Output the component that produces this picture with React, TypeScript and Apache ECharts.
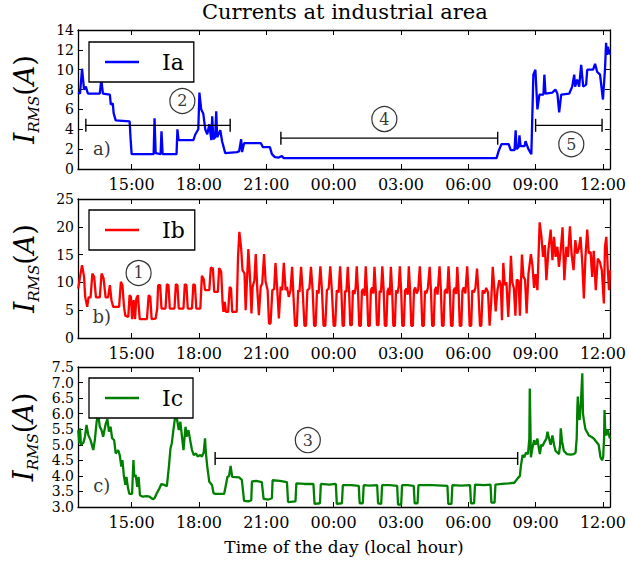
import React, { useEffect, useRef } from "react";
import * as echarts from "echarts";

const FONT = '"DejaVu Serif", serif';
const X_MIN = 12.61;
const X_MAX = 36.31;
const hourTicks = [15, 18, 21, 24, 27, 30, 33, 36];

// [hour of day (continuing past 24), current in A]
const iaData = [
  [12.61, 7.7], [12.7, 7.6], [12.79, 10.1], [12.88, 8.0], [12.96, 8.3], [13.05, 7.6], [13.58, 7.6], [13.65, 9.0],
  [13.72, 7.6], [14.03, 7.5], [14.07, 6.5], [14.16, 6.6], [14.2, 5.6], [14.29, 4.9], [14.91, 4.8], [14.96, 2.8],
  [15.0, 1.5], [15.98, 1.5], [16.02, 5.1], [16.07, 1.6], [16.29, 1.5], [16.33, 3.8], [16.38, 1.5], [17.0, 1.5],
  [17.04, 4.0], [17.09, 2.9], [17.75, 2.9], [17.84, 3.5], [17.97, 4.0], [18.02, 7.7], [18.1, 6.0], [18.19, 5.6],
  [18.28, 4.0], [18.37, 3.5], [18.46, 4.5], [18.55, 2.9], [18.59, 5.3], [18.64, 3.0], [18.72, 3.2], [18.77, 5.8],
  [18.81, 3.2], [18.95, 3.9], [19.03, 2.8], [19.17, 1.6], [19.7, 1.7], [19.79, 1.8], [19.88, 3.0], [19.92, 1.7],
  [20.01, 2.6], [20.76, 2.6], [20.85, 2.2], [21.16, 2.2], [21.25, 1.5], [21.38, 1.2], [21.56, 1.15], [21.69, 1.3],
  [21.78, 1.1], [31.26, 1.1], [31.35, 1.8], [31.48, 2.5], [31.8, 2.5], [31.89, 1.9], [32.06, 1.9], [32.11, 3.9],
  [32.15, 2.0], [32.24, 2.2], [32.28, 3.4], [32.33, 2.3], [32.51, 2.3], [32.55, 2.8], [32.68, 2.0], [32.81, 1.5],
  [32.9, 9.5], [32.99, 10.0], [33.08, 6.0], [33.17, 7.5], [33.35, 7.5], [33.39, 9.5], [33.44, 7.6], [33.75, 7.7],
  [33.88, 8.0], [33.97, 7.6], [34.05, 5.7], [34.14, 7.5], [34.5, 7.6], [34.63, 8.3], [34.72, 9.5], [34.76, 8.3],
  [34.85, 9.0], [34.94, 8.3], [35.03, 10.5], [35.12, 8.3], [35.25, 8.5], [35.3, 10.0], [35.56, 10.0], [35.65, 10.6],
  [35.74, 9.8], [35.87, 9.5], [36.0, 7.0], [36.09, 10.0], [36.14, 12.7], [36.18, 11.5], [36.22, 12.3], [36.31, 11.5],
];

const ibData = [
  [12.62, 8.9], [12.7, 11.0], [12.79, 13.1], [12.88, 11.0], [12.93, 7.4], [13.02, 5.6], [13.08, 7.3], [13.17, 7.3],
  [13.25, 11.6], [13.33, 11.0], [13.41, 7.3], [13.58, 7.3], [13.66, 11.6], [13.75, 10.7], [13.84, 7.3], [13.95, 7.3],
  [14.03, 9.5], [14.1, 6.8], [14.18, 5.6], [14.44, 5.6], [14.52, 10.1], [14.59, 9.5], [14.66, 5.6], [14.72, 4.0],
  [14.85, 3.8], [14.91, 7.7], [14.97, 7.4], [15.02, 3.4], [15.09, 6.8], [15.15, 3.4], [15.21, 7.1], [15.28, 7.7],
  [15.36, 3.4], [15.68, 3.4], [15.76, 7.7], [15.83, 7.4], [15.89, 3.4], [16.07, 3.5], [16.14, 5.3], [16.18, 9.5],
  [16.27, 9.5], [16.33, 5.3], [16.51, 5.3], [16.57, 9.7], [16.64, 9.5], [16.7, 5.3], [16.91, 5.3], [16.97, 9.7],
  [17.04, 9.5], [17.1, 5.3], [17.31, 5.3], [17.37, 9.7], [17.44, 9.5], [17.5, 5.3], [17.69, 5.3], [17.75, 9.7],
  [17.82, 9.5], [17.88, 5.3], [18.06, 5.3], [18.13, 11.2], [18.21, 10.6], [18.27, 8.6], [18.46, 8.6], [18.53, 12.7],
  [18.62, 12.5], [18.68, 8.3], [18.84, 8.3], [18.9, 12.6], [18.99, 11.9], [19.05, 6.5], [19.09, 4.7], [19.15, 6.5],
  [19.2, 4.7], [19.3, 4.7], [19.37, 9.2], [19.43, 8.9], [19.48, 4.7], [19.68, 4.7], [19.74, 14.6], [19.8, 19.1],
  [19.88, 16.1], [19.94, 12.2], [20.03, 11.6], [20.08, 5.0], [20.14, 10.4], [20.2, 16.0], [20.28, 10.4], [20.34, 4.4],
  [20.39, 9.2], [20.47, 10.4], [20.53, 15.1], [20.6, 8.6], [20.67, 4.1], [20.75, 9.2], [20.82, 9.8], [20.9, 15.1],
  [20.97, 10.1], [21.06, 8.6], [21.12, 2.6], [21.19, 2.6], [21.27, 8.6], [21.35, 8.8], [21.41, 13.5], [21.49, 8.6],
  [21.56, 3.5], [21.64, 9.2], [21.71, 8.6], [21.78, 13.5], [21.86, 8.6], [21.92, 9.2], [22.0, 7.4], [22.08, 8.6],
  [22.15, 12.8], [22.22, 6.8], [22.28, 2.2], [22.36, 2.2], [22.42, 8.6], [22.48, 8.3], [22.55, 12.8], [22.62, 8.6],
  [22.7, 2.2], [22.77, 2.2], [22.83, 8.6], [22.92, 8.9], [22.99, 12.8], [23.07, 8.3], [23.13, 2.2], [23.2, 2.2],
  [23.26, 8.6], [23.33, 8.0], [23.41, 12.9], [23.48, 8.6], [23.55, 2.2], [23.63, 2.2], [23.7, 8.6], [23.78, 8.9],
  [23.85, 12.9], [23.92, 8.6], [24.0, 2.2], [24.07, 2.2], [24.14, 8.6], [24.22, 8.2], [24.29, 12.9], [24.35, 8.0],
  [24.4, 2.2], [24.46, 2.2], [24.51, 8.5], [24.57, 8.3], [24.63, 12.8], [24.69, 8.4], [24.74, 2.3], [24.81, 2.3],
  [24.86, 8.6], [24.93, 7.9], [24.98, 9.0], [25.03, 12.9], [25.09, 8.2], [25.14, 2.2], [25.21, 2.2], [25.26, 8.5],
  [25.33, 8.8], [25.38, 7.6], [25.43, 12.9], [25.49, 8.3], [25.54, 2.2], [25.61, 2.2], [25.66, 8.6], [25.72, 9.1],
  [25.77, 8.0], [25.82, 12.8], [25.88, 8.4], [25.93, 2.3], [26.0, 2.3], [26.05, 8.5], [26.11, 8.2], [26.17, 12.9],
  [26.23, 8.6], [26.28, 2.2], [26.35, 2.2], [26.4, 8.4], [26.46, 9.0], [26.5, 7.7], [26.55, 12.8], [26.61, 8.3],
  [26.66, 2.2], [26.73, 2.2], [26.78, 8.6], [26.84, 8.0], [26.9, 9.2], [26.95, 12.9], [27.01, 8.4], [27.06, 2.2],
  [27.13, 2.2], [27.18, 8.5], [27.24, 8.9], [27.3, 7.8], [27.35, 12.9], [27.41, 8.2], [27.46, 2.2], [27.53, 2.2],
  [27.58, 8.6], [27.64, 9.1], [27.7, 8.0], [27.77, 8.7], [27.84, 12.9], [27.9, 8.4], [27.95, 2.2], [28.02, 2.2],
  [28.07, 8.5], [28.13, 8.0], [28.2, 9.0], [28.28, 12.8], [28.34, 8.3], [28.39, 2.2], [28.46, 2.2], [28.51, 8.6],
  [28.57, 9.2], [28.63, 7.8], [28.72, 12.9], [28.78, 8.5], [28.83, 2.2], [28.9, 2.2], [28.95, 8.4], [29.01, 8.8],
  [29.06, 8.0], [29.12, 12.9], [29.18, 8.2], [29.23, 2.2], [29.3, 2.2], [29.35, 8.6], [29.41, 9.0], [29.46, 7.9],
  [29.51, 12.8], [29.57, 8.4], [29.62, 2.2], [29.69, 2.2], [29.74, 8.5], [29.8, 9.1], [29.87, 8.0], [29.95, 12.9],
  [30.01, 8.3], [30.06, 2.2], [30.13, 2.2], [30.18, 8.6], [30.25, 8.2], [30.32, 9.0], [30.39, 12.5], [30.45, 8.5],
  [30.52, 2.2], [30.58, 2.2], [30.64, 8.6], [30.72, 8.0], [30.8, 9.0], [30.88, 8.2], [30.95, 2.2], [31.02, 6.5],
  [31.09, 12.8], [31.16, 8.8], [31.22, 4.8], [31.3, 8.6], [31.38, 10.4], [31.45, 9.5], [31.5, 3.2], [31.56, 13.5],
  [31.63, 9.5], [31.7, 10.0], [31.78, 3.8], [31.85, 9.5], [31.9, 14.8], [31.96, 10.0], [32.03, 9.0], [32.1, 4.0],
  [32.16, 10.5], [32.24, 10.3], [32.3, 4.0], [32.39, 15.0], [32.46, 11.0], [32.53, 10.5], [32.6, 4.4], [32.68, 11.5],
  [32.79, 15.1], [32.86, 13.0], [32.93, 9.0], [33.0, 11.5], [33.08, 8.6], [33.18, 20.8], [33.26, 18.2], [33.33, 14.6],
  [33.41, 16.7], [33.48, 10.4], [33.57, 15.8], [33.67, 19.5], [33.75, 14.0], [33.82, 18.2], [33.89, 14.6], [33.97, 16.4],
  [34.04, 12.8], [34.12, 15.8], [34.2, 19.9], [34.28, 10.4], [34.37, 16.4], [34.44, 14.6], [34.53, 20.1], [34.6, 15.2],
  [34.69, 12.2], [34.77, 17.6], [34.85, 15.2], [34.93, 16.1], [35.0, 18.2], [35.08, 13.4], [35.15, 7.1], [35.22, 14.6],
  [35.3, 19.5], [35.37, 15.2], [35.45, 15.5], [35.52, 11.0], [35.59, 15.7], [35.68, 8.6], [35.77, 14.3], [35.86, 13.7],
  [35.95, 12.2], [36.04, 6.2], [36.09, 16.4], [36.15, 18.2], [36.21, 12.8], [36.27, 8.6], [36.31, 12.2],
];

const icData = [
  [12.62, 5.47], [12.67, 5.05], [12.7, 5.53], [12.74, 5.0], [12.85, 5.07], [12.92, 5.26], [12.99, 5.64], [13.07, 5.31],
  [13.17, 5.15], [13.29, 4.83], [13.36, 5.15], [13.44, 5.74], [13.51, 6.0], [13.58, 5.58], [13.66, 5.47], [13.73, 5.26],
  [13.85, 5.69], [13.92, 5.82], [13.99, 5.42], [14.06, 5.58], [14.13, 5.21], [14.22, 5.15], [14.29, 4.72], [14.4, 4.83],
  [14.47, 4.67], [14.54, 4.3], [14.59, 4.51], [14.65, 4.03], [14.72, 3.71], [14.77, 3.97], [14.84, 3.6], [14.9, 3.42],
  [15.02, 3.42], [15.08, 4.51], [15.12, 3.97], [15.18, 4.03], [15.25, 3.65], [15.31, 3.97], [15.37, 3.38], [15.5, 3.33],
  [15.65, 3.35], [15.8, 3.33], [15.94, 3.25], [16.02, 3.28], [16.12, 3.44], [16.24, 3.6], [16.32, 3.74], [16.46, 3.71],
  [16.57, 3.67], [16.66, 4.3], [16.73, 4.88], [16.79, 5.05], [16.86, 5.47], [16.92, 5.8], [16.98, 6.0], [17.04, 5.74],
  [17.1, 5.47], [17.17, 5.74], [17.25, 5.21], [17.31, 4.83], [17.4, 5.58], [17.45, 5.26], [17.53, 5.47], [17.62, 5.1],
  [17.69, 4.83], [17.77, 4.67], [17.87, 4.72], [17.94, 4.62], [18.06, 4.67], [18.13, 4.62], [18.21, 4.75], [18.27, 5.21],
  [18.31, 4.72], [18.37, 4.3], [18.46, 3.81], [18.58, 3.71], [18.65, 3.44], [18.75, 3.42], [19.12, 3.42], [19.2, 3.71],
  [19.27, 3.97], [19.34, 3.99], [19.41, 4.32], [19.48, 3.97], [19.79, 3.95], [19.91, 3.87], [20.01, 3.2], [20.2, 3.18],
  [20.33, 3.22], [20.36, 3.82], [20.55, 3.84], [20.8, 3.8], [20.88, 3.26], [21.1, 3.24], [21.25, 3.28], [21.28, 3.86],
  [21.6, 3.84], [21.92, 3.8], [21.97, 3.16], [22.3, 3.18], [22.34, 3.76], [22.7, 3.74], [23.1, 3.74], [23.15, 3.1],
  [23.39, 3.12], [23.43, 3.74], [23.8, 3.72], [24.1, 3.74], [24.14, 3.1], [24.37, 3.12], [24.41, 3.7], [24.8, 3.7],
  [25.12, 3.68], [25.16, 3.12], [25.3, 3.12], [25.34, 3.7], [25.6, 3.69], [25.94, 3.7], [25.98, 3.12], [26.12, 3.1],
  [26.16, 3.7], [26.5, 3.7], [26.83, 3.68], [26.87, 3.08], [27.01, 3.08], [27.05, 3.7], [27.3, 3.7], [27.57, 3.68],
  [27.61, 3.12], [27.74, 3.12], [27.78, 3.7], [28.4, 3.7], [29.07, 3.68], [29.11, 3.1], [29.25, 3.1], [29.29, 3.7],
  [29.7, 3.69], [30.08, 3.7], [30.12, 3.12], [30.26, 3.12], [30.3, 3.72], [30.7, 3.7], [30.99, 3.72], [31.03, 3.14],
  [31.17, 3.14], [31.21, 3.72], [31.5, 3.74], [31.8, 3.76], [32.05, 3.78], [32.2, 3.92], [32.3, 4.0], [32.34, 4.3],
  [32.42, 4.67], [32.5, 4.6], [32.57, 4.75], [32.66, 4.7], [32.72, 5.2], [32.74, 6.81], [32.77, 5.5], [32.79, 4.6],
  [32.86, 4.9], [32.93, 5.15], [33.0, 5.0], [33.08, 5.2], [33.14, 4.9], [33.19, 4.7], [33.25, 5.0], [33.3, 4.95],
  [33.4, 5.1], [33.48, 5.2], [33.53, 5.42], [33.6, 5.2], [33.67, 5.0], [33.75, 5.3], [33.82, 5.0], [33.89, 4.8],
  [33.97, 4.75], [34.04, 4.7], [34.09, 5.0], [34.12, 5.53], [34.18, 5.1], [34.26, 4.8], [34.4, 4.7], [34.56, 4.68],
  [34.7, 4.7], [34.78, 4.75], [34.83, 5.2], [34.86, 6.2], [34.88, 6.55], [34.92, 5.9], [34.96, 5.8], [35.02, 6.4],
  [35.08, 7.3], [35.11, 6.0], [35.15, 5.8], [35.22, 5.5], [35.3, 5.4], [35.37, 5.3], [35.5, 5.25], [35.59, 5.2],
  [35.7, 5.1], [35.81, 5.0], [35.89, 4.6], [35.96, 4.5], [36.01, 4.6], [36.05, 5.2], [36.07, 6.12], [36.1, 5.5],
  [36.15, 5.3], [36.21, 5.5], [36.31, 5.2],
];

const seriesNames = ["Ia", "Ib", "Ic"];
const seriesColors = ["#0000ff", "#ff0000", "#008000"];
const yMins = [0, 0, 3];
const yMaxs = [14, 25, 7.5];
const yIntervals = [2, 5, 0.5];
const panelTags = ["a)", "b)", "c)"];
const tagPositions = [[13.67, 2.1], [13.67, 3.8], [13.67, 3.7]];

// horizontal range bars: [panel, start hour, end hour, level]
const rangeBars = [
  [0, 12.96, 19.39, 4.4],
  [0, 21.65, 31.31, 3.1],
  [0, 33.0, 35.96, 4.4],
  [2, 18.72, 32.2, 4.56],
];
// circled numbers: [panel, hour, level, label]
const circledMarks = [
  [0, 17.26, 6.85, "2"],
  [0, 26.26, 5.03, "4"],
  [0, 34.59, 2.5, "5"],
  [1, 15.31, 11.7, "1"],
  [2, 22.85, 5.15, "3"],
];

const gridTops = [30, 199, 367];
const gridHeights = [139, 139, 140];

function hourLabel(v: number) {
  const h = Math.round(v) % 24;
  return (h < 10 ? "0" : "") + h + ":00";
}

export default function App() {
  const ref = useRef<HTMLDivElement>(null);
  useEffect(() => {
    if (!ref.current) return;
    const chart = echarts.init(ref.current, null, { renderer: "svg" });
    const datas = [iaData, ibData, icData];

    const grids = [0, 1, 2].map((i) => ({
      left: 78,
      top: gridTops[i],
      width: 535,
      height: gridHeights[i],
      show: false,
    }));

    const xAxes: any[] = [];
    const yAxes: any[] = [];
    [0, 1, 2].forEach((i) => {
      const base = {
        type: "value",
        gridIndex: i,
        min: X_MIN,
        max: X_MAX,
        splitLine: { show: false },
        axisLine: { show: true, onZero: false, lineStyle: { color: "#000", width: 1.3 } },
        axisTick: { show: true, inside: true, length: 5, customValues: hourTicks, lineStyle: { color: "#000", width: 1 } },
      };
      xAxes.push({
        ...base,
        position: "bottom",
        axisLabel: {
          show: true,
          customValues: hourTicks,
          formatter: hourLabel,
          color: "#000",
          fontFamily: FONT,
          fontSize: 16,
          margin: 7,
        },
        ...(i === 2
          ? {
              name: "Time of the day (local hour)",
              nameLocation: "middle",
              nameGap: 31,
              nameTextStyle: { fontFamily: FONT, fontSize: 17, color: "#000" },
            }
          : {}),
      });
      xAxes.push({ ...base, position: "top", axisLabel: { show: false } });

      const ybase = {
        type: "value",
        gridIndex: i,
        min: yMins[i],
        max: yMaxs[i],
        interval: yIntervals[i],
        splitLine: { show: false },
        axisLine: { show: true, onZero: false, lineStyle: { color: "#000", width: 1.3 } },
        axisTick: { show: true, inside: true, length: 5, lineStyle: { color: "#000", width: 1 } },
      };
      yAxes.push({
        ...ybase,
        position: "left",
        axisLabel: {
          show: true,
          color: "#000",
          fontFamily: FONT,
          fontSize: 14,
          margin: 4,
          formatter: (v: number) => (i === 2 ? v.toFixed(1) : String(v)),
        },
        name: "{i|I}{s|RMS}{p|(}{a|A}{p|)}",
        nameLocation: "middle",
        nameRotate: 90,
        nameGap: 37,
        nameTextStyle: {
          rich: {
            i: { fontFamily: FONT, fontStyle: "italic", fontSize: 28, color: "#000", lineHeight: 34, verticalAlign: "middle" },
            s: { fontFamily: FONT, fontStyle: "italic", fontSize: 15, color: "#000", lineHeight: 15, verticalAlign: "bottom" },
            p: { fontFamily: FONT, fontSize: 27, color: "#000", lineHeight: 34, verticalAlign: "middle" },
            a: { fontFamily: FONT, fontStyle: "italic", fontSize: 27, color: "#000", lineHeight: 34, verticalAlign: "middle" },
          },
        },
      });
      yAxes.push({ ...ybase, position: "right", axisLabel: { show: false } });
    });

    const series: any[] = [];
    [0, 1, 2].forEach((i) => {
      series.push({
        type: "line",
        name: seriesNames[i],
        xAxisIndex: 2 * i,
        yAxisIndex: 2 * i,
        data: datas[i],
        symbol: "none",
        showSymbol: false,
        lineStyle: { color: seriesColors[i], width: 2.3 },
        itemStyle: { color: seriesColors[i] },
        z: 3,
      });
      series.push({
        type: "scatter",
        name: "tag" + i,
        xAxisIndex: 2 * i,
        yAxisIndex: 2 * i,
        symbolSize: 1,
        itemStyle: { color: "rgba(0,0,0,0)" },
        data: [{ value: tagPositions[i], name: panelTags[i] }],
        label: {
          show: true,
          position: "inside",
          formatter: "{b}",
          color: "#000",
          fontFamily: FONT,
          fontSize: 18,
        },
        z: 5,
      });
    });
    rangeBars.forEach((b, k) => {
      const p = b[0] as number;
      series.push({
        type: "line",
        name: "bar" + k,
        xAxisIndex: 2 * p,
        yAxisIndex: 2 * p,
        data: [
          [b[1], b[3]],
          [b[2], b[3]],
        ],
        symbol: "rect",
        symbolSize: [1.4, 13],
        showSymbol: true,
        itemStyle: { color: "#000" },
        lineStyle: { color: "#000", width: 1.3 },
        z: 4,
      });
    });
    circledMarks.forEach((c, k) => {
      const p = c[0] as number;
      series.push({
        type: "scatter",
        name: "circ" + k,
        xAxisIndex: 2 * p,
        yAxisIndex: 2 * p,
        symbol: "circle",
        symbolSize: 25,
        itemStyle: { color: "rgba(255,255,255,0)", borderColor: "#000", borderWidth: 1.2 },
        data: [{ value: [c[1], c[2]], name: c[3] }],
        label: {
          show: true,
          position: "inside",
          formatter: "{b}",
          color: "#000",
          fontFamily: FONT,
          fontSize: 16,
        },
        z: 5,
      });
    });

    const legendTops = [42, 210, 378];
    const legends = [0, 1, 2].map((i) => ({
      data: [{ name: seriesNames[i], icon: "rect" }],
      left: 89,
      top: legendTops[i],
      itemWidth: 34,
      itemHeight: 2.5,
      padding: [9, 10, 9, 16],
      borderColor: "#000",
      borderWidth: 1.3,
      borderRadius: 0,
      backgroundColor: "#fff",
      selectedMode: false,
      formatter: "{t|{name}}",
      textStyle: {
        fontFamily: FONT,
        fontSize: 22,
        color: "#000",
        rich: { t: { fontFamily: FONT, fontSize: 22, color: "#000", padding: [0, 0, 0, 18] } },
      },
      z: 10,
    }));

    chart.setOption({
      animation: false,
      backgroundColor: "#fff",
      title: {
        text: "Currents at industrial area",
        left: 202,
        top: 1,
        padding: 0,
        textStyle: { fontFamily: FONT, fontSize: 21, fontWeight: "normal", color: "#000" },
      },
      grid: grids,
      xAxis: xAxes,
      yAxis: yAxes,
      legend: legends,
      series,
    });
    return () => chart.dispose();
  }, []);
  return (
    <div
      ref={ref}
      style={{ position: "fixed", left: 0, top: 0, width: 629, height: 563, background: "#fff" }}
    />
  );
}
